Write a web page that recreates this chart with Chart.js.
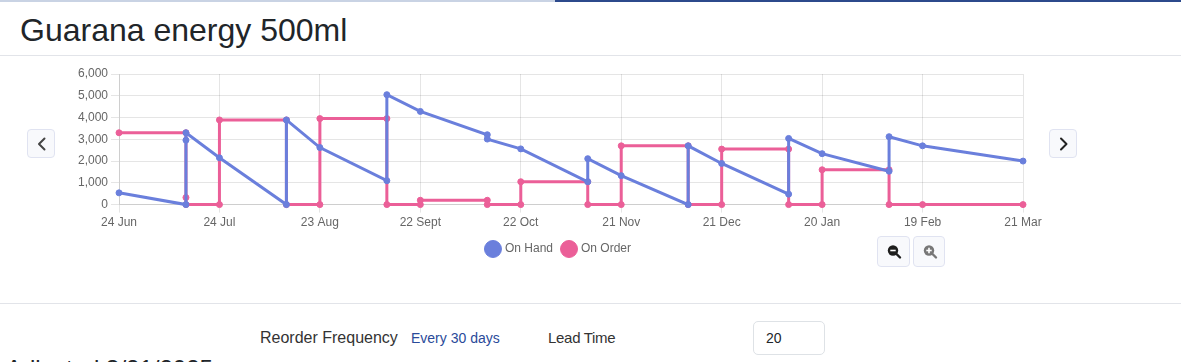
<!DOCTYPE html>
<html>
<head>
<meta charset="utf-8">
<script src="https://cdn.jsdelivr.net/npm/chart.js@4.4.1/dist/chart.umd.min.js"></script>
<style>
  html, body { margin: 0; padding: 0; }
  body { width: 1181px; height: 362px; overflow: hidden; background: #fff; position: relative;
         font-family: "Liberation Sans", Arial, Helvetica, sans-serif; }
  .bar1 { position: absolute; left: 0; top: 0; width: 555px; height: 2px; background: #c9d3e4; }
  .bar2 { position: absolute; left: 555px; top: 0; width: 626px; height: 2px; background: #2c4a8c; }
  h1 { position: absolute; left: 20px; top: 11px; margin: 0; font-size: 32px; line-height: 38px;
       font-weight: 400; color: #212529; white-space: nowrap; }
  .sep { position: absolute; left: 0; width: 1181px; height: 1px; background: #e2e4e9; }
  #wrap { position: absolute; left: 60px; top: 62px; width: 998px; height: 203px; }
  .nav { position: absolute; top: 129px; width: 28px; height: 29px; box-sizing: border-box;
         border: 1px solid #e0e3f1; border-radius: 4px; background: #f8f9fc; }
  .nav svg, .zb svg { position: absolute; left: 0; top: 0; }
  .zb { position: absolute; top: 236px; width: 33px; height: 31px; box-sizing: border-box;
        border: 1px solid #e0e3f1; border-radius: 4px; background: #f8f9fc; }
  .txt { position: absolute; white-space: nowrap; line-height: 1; }
  .inp { position: absolute; left: 753px; top: 321px; width: 72px; height: 34px; box-sizing: border-box;
         border: 1px solid #dee2e6; border-radius: 5px; font-size: 14px; color: #212529;
         padding-left: 12px; line-height: 32px; }
</style>
</head>
<body>
<div class="bar1"></div><div class="bar2"></div>
<h1>Guarana energy 500ml</h1>
<div class="sep" style="top:55px"></div>

<div class="nav" style="left:27px">
  <svg width="28" height="29"><polyline points="16.5,8.5 11,14 16.5,19.5" fill="none" stroke="#444" stroke-width="2" stroke-linecap="round" stroke-linejoin="round"/></svg>
</div>
<div class="nav" style="left:1049px">
  <svg width="28" height="29"><polyline points="11,8.5 16.5,14 11,19.5" fill="none" stroke="#222" stroke-width="2" stroke-linecap="round" stroke-linejoin="round"/></svg>
</div>

<div id="wrap"><canvas id="c" width="998" height="203"></canvas></div>

<div class="zb" style="left:877px">
  <svg width="33" height="31"><circle cx="15" cy="13.5" r="5.2" fill="#1e1e1e"/><line x1="18.5" y1="17" x2="22" y2="20.5" stroke="#1e1e1e" stroke-width="2.4" stroke-linecap="round"/><line x1="12.3" y1="13.5" x2="17.7" y2="13.5" stroke="#fff" stroke-width="1.6"/></svg>
</div>
<div class="zb" style="left:913px;width:32px">
  <svg width="32" height="31"><circle cx="15" cy="13.5" r="5.2" fill="#777"/><line x1="18.5" y1="17" x2="22" y2="20.5" stroke="#777" stroke-width="2.4" stroke-linecap="round"/><line x1="12.3" y1="13.5" x2="17.7" y2="13.5" stroke="#fff" stroke-width="1.6"/><line x1="15" y1="10.8" x2="15" y2="16.2" stroke="#fff" stroke-width="1.6"/></svg>
</div>

<div class="sep" style="top:303px"></div>
<div class="txt" style="left:260px;top:330px;font-size:16px;color:#333">Reorder Frequency</div>
<div class="txt" style="left:411px;top:331px;font-size:14px;color:#2a4a9a">Every 30 days</div>
<div class="txt" style="left:548px;top:330px;font-size:15px;letter-spacing:-0.3px;color:#333">Lead Time</div>
<div class="inp">20</div>
<div class="txt" style="left:6px;top:357px;font-size:24px;color:#212529">Adjusted 3/21/2025</div>

<script>
// ---- data ----
const tickLabels = ["24 Jun", "24 Jul", "23 Aug", "22 Sept", "22 Oct", "21 Nov", "21 Dec", "20 Jan", "19 Feb", "21 Mar"];

const onHandDays   = [0, 20, 20, 20, 30, 50, 50, 60, 80, 80, 90, 110, 110, 120, 140, 140, 150, 170, 170, 180, 200, 200, 210, 230, 230, 240, 270];
const onHandValues = [540, 0, 2960, 3300, 2150, 0, 3890, 2620, 1100, 5050, 4280, 3210, 3010, 2560, 1050, 2110, 1330, 0, 2700, 1890, 480, 3040, 2340, 1535, 3120, 2700, 2000];

const onOrderDays   = [0, 20, 20, 20, 30, 30, 50, 50, 60, 60, 80, 80, 90, 90, 110, 110, 120, 120, 140, 140, 150, 150, 170, 170, 180, 180, 200, 200, 210, 210, 230, 230, 240, 270];
const onOrderValues = [3300, 3300, 325, 0, 0, 3890, 3890, 0, 0, 3950, 3950, 0, 0, 200, 200, 0, 0, 1050, 1050, 0, 0, 2700, 2700, 0, 0, 2550, 2550, 0, 0, 1600, 1600, 0, 0, 0];

const BLUE = "#6a7fdc";
const PINK = "#eb5f98";

const toPoints = (xs, ys) => xs.map((x, i) => ({ x: x, y: ys[i] }));

Chart.defaults.font.family = "'Liberation Sans', Arial, Helvetica, sans-serif";
Chart.defaults.font.size = 12;
Chart.defaults.color = "#666";

new Chart(document.getElementById("c"), {
  type: "line",
  data: {
    datasets: [
      { label: "On Hand", data: toPoints(onHandDays, onHandValues),
        borderColor: BLUE, backgroundColor: BLUE, borderWidth: 3, clip: false,
        pointRadius: 3, pointHoverRadius: 3, pointBorderWidth: 1, tension: 0, fill: false },
      { label: "On Order", data: toPoints(onOrderDays, onOrderValues),
        borderColor: PINK, backgroundColor: PINK, borderWidth: 3, clip: false,
        pointRadius: 3, pointHoverRadius: 3, pointBorderWidth: 1, tension: 0, fill: false }
    ]
  },
  options: {
    responsive: false,
    animation: false,
    layout: { padding: { top: 12, left: 0, right: 0, bottom: 0 } },
    plugins: {
      legend: {
        position: "bottom",
        labels: { usePointStyle: true, color: "#666", font: { size: 12 } }
      },
      tooltip: { enabled: false }
    },
    scales: {
      x: {
        type: "linear", min: 0, max: 270,
        ticks: { stepSize: 30, autoSkip: false, maxRotation: 0,
                 callback: (v) => tickLabels[Math.round(v / 30)] },
        grid: { color: "rgba(0,0,0,0.1)" }
      },
      y: {
        min: 0, max: 6000,
        ticks: { stepSize: 1000 },
        grid: { color: "rgba(0,0,0,0.1)" },
        afterFit: (s) => { s.width = 59; }
      },
      y2: {
        position: "right", display: true,
        grid: { display: false }, border: { display: false },
        ticks: { display: false },
        afterFit: (s) => { s.width = 35; }
      }
    }
  }
});
</script>
</body>
</html>
